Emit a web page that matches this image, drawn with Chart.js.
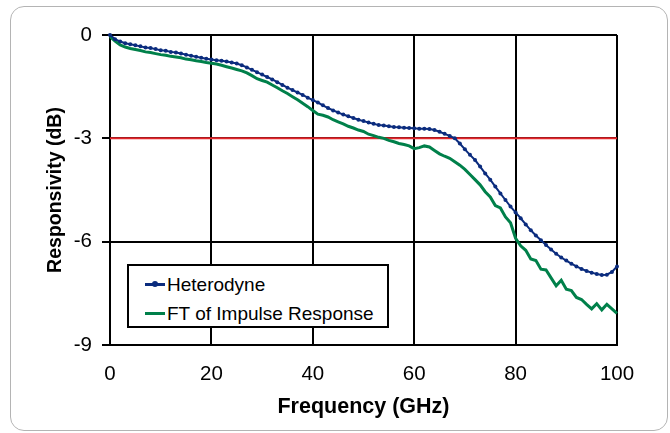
<!DOCTYPE html>
<html>
<head>
<meta charset="utf-8">
<title>Responsivity vs Frequency</title>
<script src="https://cdn.jsdelivr.net/npm/chart.js@4/dist/chart.umd.min.js"></script>
<style>
  html, body { margin: 0; padding: 0; background: #fff; }
  #wrap { position: relative; width: 670px; height: 433px; overflow: hidden; }
  #frame {
    position: absolute; left: 10px; top: 6px; width: 658px; height: 425px;
    box-sizing: border-box; border: 1px solid #b4b4b4; border-radius: 14px;
    pointer-events: none;
  }
  #legend {
    position: absolute; left: 127px; top: 264px; width: 262px; height: 64px;
    box-sizing: border-box; border: 2px solid #000; background: #fff;
    font-family: "Liberation Sans", Arial, sans-serif; font-size: 19px; color: #000;
    padding: 4px 0 0 16px;
  }
  .item { height: 29px; line-height: 29px; white-space: nowrap; }
  .swatch { display: inline-block; position: relative; width: 20px; height: 3px; vertical-align: middle; margin-right: 2px; top: -1px; }
  .dot { position: absolute; left: 7px; top: -2px; width: 6px; height: 6px; border-radius: 50%; }
</style>
</head>
<body>
<div id="wrap">
  <canvas id="respChart" width="670" height="433"></canvas>
  <div id="frame"></div>
  <div id="legend"></div>
</div>
<script>
/* ---------------------------------------------------------
   Data
   --------------------------------------------------------- */
var freqGHz = [
  0, 1, 2, 3, 4, 5, 6, 7, 8, 9,
  10, 11, 12, 13, 14, 15, 16, 17, 18, 19,
  20, 21, 22, 23, 24, 25, 26, 27, 28, 29,
  30, 31, 32, 33, 34, 35, 36, 37, 38, 39,
  40, 41, 42, 43, 44, 45, 46, 47, 48, 49,
  50, 51, 52, 53, 54, 55, 56, 57, 58, 59,
  60, 61, 62, 63, 64, 65, 66, 67, 68, 69,
  70, 71, 72, 73, 74, 75, 76, 77, 78, 79,
  80, 81, 82, 83, 84, 85, 86, 87, 88, 89,
  90, 91, 92, 93, 94, 95, 96, 97, 98, 99,
  100
];

var heterodyneDb = [
  0.00, -0.12, -0.19, -0.24, -0.27, -0.30, -0.33, -0.36, -0.38, -0.41,
  -0.44, -0.46, -0.49, -0.51, -0.54, -0.57, -0.60, -0.63, -0.66, -0.69,
  -0.71, -0.73, -0.75, -0.77, -0.80, -0.83, -0.88, -0.94, -1.01, -1.08,
  -1.15, -1.22, -1.29, -1.37, -1.45, -1.53, -1.60, -1.67, -1.74, -1.82,
  -1.89, -1.96, -2.04, -2.12, -2.19, -2.25, -2.31, -2.36, -2.41, -2.46,
  -2.50, -2.54, -2.58, -2.61, -2.63, -2.65, -2.67, -2.68, -2.69, -2.70,
  -2.71, -2.72, -2.72, -2.73, -2.76, -2.81, -2.87, -2.93, -3.00, -3.15,
  -3.32, -3.48, -3.63, -3.82, -4.02, -4.20, -4.40, -4.60, -4.79, -4.98,
  -5.15, -5.32, -5.50, -5.67, -5.82, -5.96, -6.10, -6.23, -6.35, -6.46,
  -6.55, -6.64, -6.72, -6.79, -6.85, -6.90, -6.94, -6.97, -6.96, -6.88,
  -6.72
];

var impulseFtDb = [
  -0.05, -0.18, -0.29, -0.35, -0.39, -0.42, -0.45, -0.49, -0.51, -0.54,
  -0.57, -0.59, -0.62, -0.64, -0.66, -0.70, -0.72, -0.75, -0.77, -0.80,
  -0.82, -0.84, -0.88, -0.92, -0.96, -1.00, -1.04, -1.10, -1.18, -1.27,
  -1.32, -1.37, -1.45, -1.53, -1.62, -1.70, -1.79, -1.88, -1.98, -2.08,
  -2.19, -2.30, -2.33, -2.38, -2.46, -2.52, -2.58, -2.65, -2.70, -2.76,
  -2.80, -2.88, -2.92, -2.97, -3.00, -3.06, -3.10, -3.15, -3.18, -3.22,
  -3.30, -3.27, -3.22, -3.25, -3.35, -3.45, -3.52, -3.58, -3.68, -3.78,
  -3.90, -4.05, -4.20, -4.35, -4.55, -4.70, -4.95, -5.02, -5.28, -5.45,
  -5.90, -6.12, -6.25, -6.50, -6.55, -6.80, -6.82, -7.05, -7.28, -7.12,
  -7.38, -7.42, -7.62, -7.68, -7.82, -7.95, -7.80, -7.98, -7.82, -7.95,
  -8.08
];

// -3 dB reference line
var refFreq = [0, 100];
var refDb = [-3, -3];

var xTicks = [0, 20, 40, 60, 80, 100];
var yTicks = [0, -3, -6, -9];

var seriesLabels = ['Heterodyne', 'FT of Impulse Response'];

/* --------------------------------------------------------- */
var BLUE = '#0b2c7e';
var GREEN = '#00804a';
var RED = '#e3262b';
var FONT = '"Liberation Sans", Arial, sans-serif';

function toPoints(xs, ys) {
  return xs.map(function (x, i) { return { x: x, y: ys[i] }; });
}

var ctx = document.getElementById('respChart');

var chart = new Chart(ctx, {
  type: 'line',
  data: {
    datasets: [{
      label: seriesLabels[0],
      data: toPoints(freqGHz, heterodyneDb),
      borderColor: BLUE,
      backgroundColor: BLUE,
      borderWidth: 2,
      pointRadius: 2,
      pointBorderWidth: 0,
      pointBackgroundColor: BLUE,
      tension: 0,
      clip: 4,
      order: 1
    }, {
      label: seriesLabels[1],
      data: toPoints(freqGHz, impulseFtDb),
      borderColor: GREEN,
      backgroundColor: GREEN,
      borderWidth: 3,
      pointRadius: 0,
      tension: 0,
      clip: 4,
      order: 2
    }, {
      label: '-3 dB',
      data: toPoints(refFreq, refDb),
      borderColor: RED,
      borderWidth: 2,
      pointRadius: 0,
      order: 3
    }]
  },
  options: {
    responsive: false,
    animation: false,
    layout: { padding: { left: 0, top: 35, right: 53, bottom: 0 } },
    plugins: {
      legend: { display: false },
      tooltip: { enabled: false }
    },
    scales: {
      x: {
        type: 'linear',
        min: 0,
        max: 100,
        afterBuildTicks: function (scale) {
          scale.ticks = xTicks.map(function (v) { return { value: v }; });
        },
        afterFit: function (scale) { scale.height = 88; },
        ticks: { color: '#000', font: { family: FONT, size: 20.5 }, padding: 17, maxRotation: 0 },
        grid: { color: '#000', lineWidth: 2, drawTicks: false },
        border: { color: '#000', width: 2 },
        title: {
          display: true,
          text: 'Frequency (GHz)',
          color: '#000',
          font: { family: FONT, size: 21.5, weight: 'bold' },
          padding: { top: 0, bottom: 13 }
        }
      },
      y: {
        type: 'linear',
        min: -9,
        max: 0,
        afterBuildTicks: function (scale) {
          scale.ticks = yTicks.map(function (v) { return { value: v }; });
        },
        afterFit: function (scale) { scale.width = 110; },
        ticks: { color: '#000', font: { family: FONT, size: 20.5 }, padding: 10 },
        grid: { color: '#000', lineWidth: 2, drawTicks: true, tickLength: 8 },
        border: { color: '#000', width: 2 },
        title: {
          display: true,
          text: 'Responsivity (dB)',
          color: '#000',
          font: { family: FONT, size: 19.5, weight: 'bold' },
          padding: { top: 44, bottom: 0 }
        }
      }
    }
  }
});

/* legend box inside the plot, built from the two data series */
(function buildLegend() {
  var box = document.getElementById('legend');
  chart.data.datasets.slice(0, 2).forEach(function (ds, i) {
    var row = document.createElement('div');
    row.className = 'item';
    var sw = document.createElement('span');
    sw.className = 'swatch';
    sw.style.background = ds.borderColor;
    if (i === 0) {
      var dot = document.createElement('span');
      dot.className = 'dot';
      dot.style.background = ds.borderColor;
      sw.appendChild(dot);
    }
    row.appendChild(sw);
    row.appendChild(document.createTextNode(ds.label));
    box.appendChild(row);
  });
})();
</script>
</body>
</html>
